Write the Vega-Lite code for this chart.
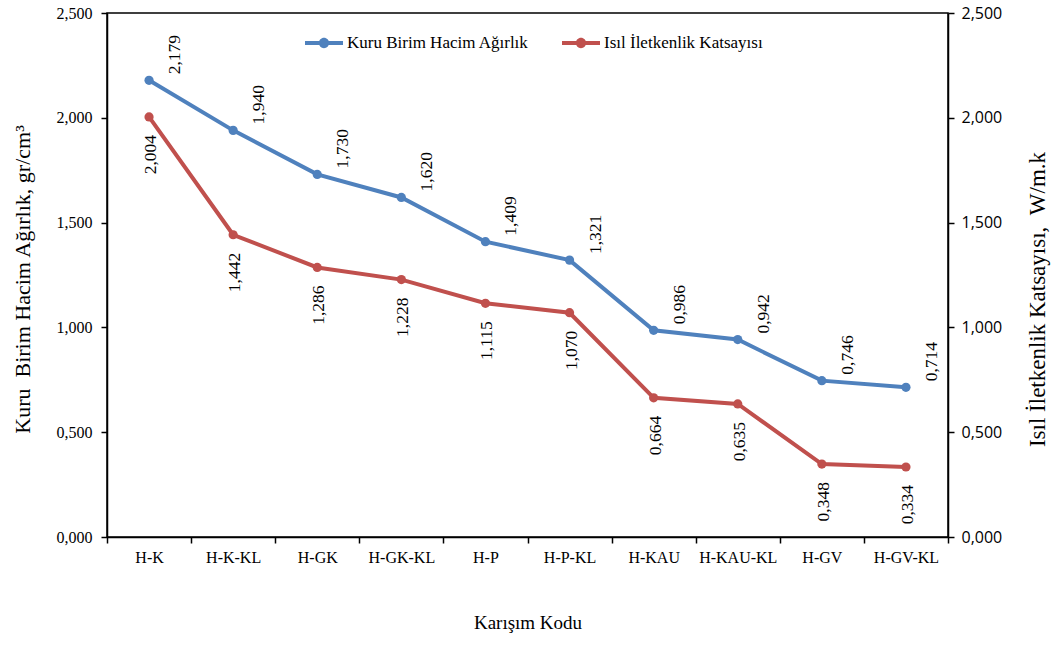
{
  "$schema": "https://vega.github.io/schema/vega-lite/v6.json",
  "width": 841,
  "height": 524,
  "autosize": {"type": "none"},
  "padding": {"left": 107, "top": 13, "right": 114, "bottom": 109},
  "background": "white",
  "config": {
    "locale": {"number": {"decimal": ",", "thousands": ".", "grouping": [3], "currency": ["", ""]}},
    "view": {"stroke": "black", "strokeWidth": 1.5},
    "axis": {"grid": false, "domainColor": "black", "domainWidth": 1.5, "tickColor": "black", "tickWidth": 1.5, "tickSize": 6, "labelColor": "black", "titleColor": "black", "titleFontWeight": "normal"},
    "legend": {"labelFont": "Liberation Serif", "labelFontSize": 17, "labelColor": "black", "labelLimit": 500}
  },
  "data": {"values": [
    {"kod": "H-K", "seri": "Kuru Birim Hacim Ağırlık", "deger": 2.179},
    {"kod": "H-K-KL", "seri": "Kuru Birim Hacim Ağırlık", "deger": 1.940},
    {"kod": "H-GK", "seri": "Kuru Birim Hacim Ağırlık", "deger": 1.730},
    {"kod": "H-GK-KL", "seri": "Kuru Birim Hacim Ağırlık", "deger": 1.620},
    {"kod": "H-P", "seri": "Kuru Birim Hacim Ağırlık", "deger": 1.409},
    {"kod": "H-P-KL", "seri": "Kuru Birim Hacim Ağırlık", "deger": 1.321},
    {"kod": "H-KAU", "seri": "Kuru Birim Hacim Ağırlık", "deger": 0.986},
    {"kod": "H-KAU-KL", "seri": "Kuru Birim Hacim Ağırlık", "deger": 0.942},
    {"kod": "H-GV", "seri": "Kuru Birim Hacim Ağırlık", "deger": 0.746},
    {"kod": "H-GV-KL", "seri": "Kuru Birim Hacim Ağırlık", "deger": 0.714},
    {"kod": "H-K", "seri": "Isıl İletkenlik Katsayısı", "deger": 2.004},
    {"kod": "H-K-KL", "seri": "Isıl İletkenlik Katsayısı", "deger": 1.442},
    {"kod": "H-GK", "seri": "Isıl İletkenlik Katsayısı", "deger": 1.286},
    {"kod": "H-GK-KL", "seri": "Isıl İletkenlik Katsayısı", "deger": 1.228},
    {"kod": "H-P", "seri": "Isıl İletkenlik Katsayısı", "deger": 1.115},
    {"kod": "H-P-KL", "seri": "Isıl İletkenlik Katsayısı", "deger": 1.070},
    {"kod": "H-KAU", "seri": "Isıl İletkenlik Katsayısı", "deger": 0.664},
    {"kod": "H-KAU-KL", "seri": "Isıl İletkenlik Katsayısı", "deger": 0.635},
    {"kod": "H-GV", "seri": "Isıl İletkenlik Katsayısı", "deger": 0.348},
    {"kod": "H-GV-KL", "seri": "Isıl İletkenlik Katsayısı", "deger": 0.334}
  ]},
  "encoding": {
    "x": {
      "field": "kod", "type": "nominal",
      "sort": ["H-K", "H-K-KL", "H-GK", "H-GK-KL", "H-P", "H-P-KL", "H-KAU", "H-KAU-KL", "H-GV", "H-GV-KL"],
      "bandPosition": 0.5,
      "scale": {"type": "band", "paddingInner": 0, "paddingOuter": 0},
      "axis": {"title": "Karışım Kodu", "labelAngle": 0, "tickBand": "extent", "labelFont": "Liberation Serif", "labelFontSize": 16, "titleFont": "Liberation Serif", "titleFontSize": 19, "labelPadding": 6, "titlePadding": 48}
    }
  },
  "layer": [
    {
      "transform": [{"filter": "datum.seri === 'Kuru Birim Hacim Ağırlık'"}],
      "encoding": {
        "y": {"field": "deger", "type": "quantitative", "scale": {"domain": [0, 2.5]},
          "axis": {"orient": "left", "values": [0, 0.5, 1, 1.5, 2, 2.5], "format": ".3f", "title": "Kuru \u00a0Birim Hacim Ağırlık, gr/cm³", "labelFont": "Liberation Serif", "labelFontSize": 16, "labelPadding": 9, "titleFont": "Liberation Serif", "titleFontSize": 22, "titlePadding": 22, "titleY": 266}}
      },
      "layer": [
        {
          "mark": {"type": "line", "strokeWidth": 4, "color": "#4F81BD"}
        },
        {
          "mark": {"type": "circle", "size": 85, "opacity": 1},
          "encoding": {"fill": {"field": "seri", "type": "nominal",
            "scale": {"domain": ["Kuru Birim Hacim Ağırlık", "Isıl İletkenlik Katsayısı"], "range": ["#4F81BD", "#C0504D"]},
            "legend": {"orient": "none", "legendX": 198, "legendY": 11, "direction": "horizontal", "title": null,
              "labelFont": "Liberation Serif", "labelFontSize": 17, "labelColor": "black", "labelOffset": 4, "columnPadding": 33, "labelLimit": 500,
              "symbolType": "M-1,-0.1H1V0.1H-1Z M-0.27,0A0.27,0.27,0,1,1,0.27,0A0.27,0.27,0,1,1,-0.27,0Z",
              "symbolSize": 1444, "symbolStrokeWidth": 0}}}
        },
        {
          "mark": {"type": "text", "angle": 270, "align": "left", "baseline": "middle", "dx": 6, "dy": 26, "font": "Liberation Serif", "fontSize": 17.5, "color": "black"},
          "encoding": {"text": {"field": "deger", "type": "quantitative", "format": ".3f"}}
        }
      ]
    },
    {
      "transform": [{"filter": "datum.seri === 'Isıl İletkenlik Katsayısı'"}],
      "encoding": {
        "y": {"field": "deger", "type": "quantitative", "scale": {"domain": [0, 2.5]},
          "axis": {"orient": "right", "values": [0, 0.5, 1, 1.5, 2, 2.5], "format": ".3f", "title": "Isıl İletkenlik Katsayısı, \u00a0W/m.k", "labelFont": "Open Sans", "labelFontSize": 16, "labelPadding": 7, "titleFont": "Liberation Serif", "titleFontSize": 23, "titleAngle": 270, "titleBaseline": "top", "titlePadding": 25, "titleY": 286}}
      },
      "layer": [
        {
          "mark": {"type": "line", "strokeWidth": 4, "color": "#C0504D"}
        },
        {
          "mark": {"type": "circle", "size": 85, "opacity": 1},
          "encoding": {"fill": {"field": "seri", "type": "nominal",
            "scale": {"domain": ["Kuru Birim Hacim Ağırlık", "Isıl İletkenlik Katsayısı"], "range": ["#4F81BD", "#C0504D"]},
            "legend": {"orient": "none", "legendX": 198, "legendY": 11, "direction": "horizontal", "title": null,
              "labelFont": "Liberation Serif", "labelFontSize": 17, "labelColor": "black", "labelOffset": 4, "columnPadding": 33, "labelLimit": 500,
              "symbolType": "M-1,-0.1H1V0.1H-1Z M-0.27,0A0.27,0.27,0,1,1,0.27,0A0.27,0.27,0,1,1,-0.27,0Z",
              "symbolSize": 1444, "symbolStrokeWidth": 0}}}
        },
        {
          "mark": {"type": "text", "angle": 270, "align": "right", "baseline": "middle", "dx": -18, "dy": 2, "font": "Liberation Serif", "fontSize": 17.5, "color": "black"},
          "encoding": {"text": {"field": "deger", "type": "quantitative", "format": ".3f"}}
        }
      ]
    }
  ],
  "resolve": {"scale": {"y": "independent"}}
}
